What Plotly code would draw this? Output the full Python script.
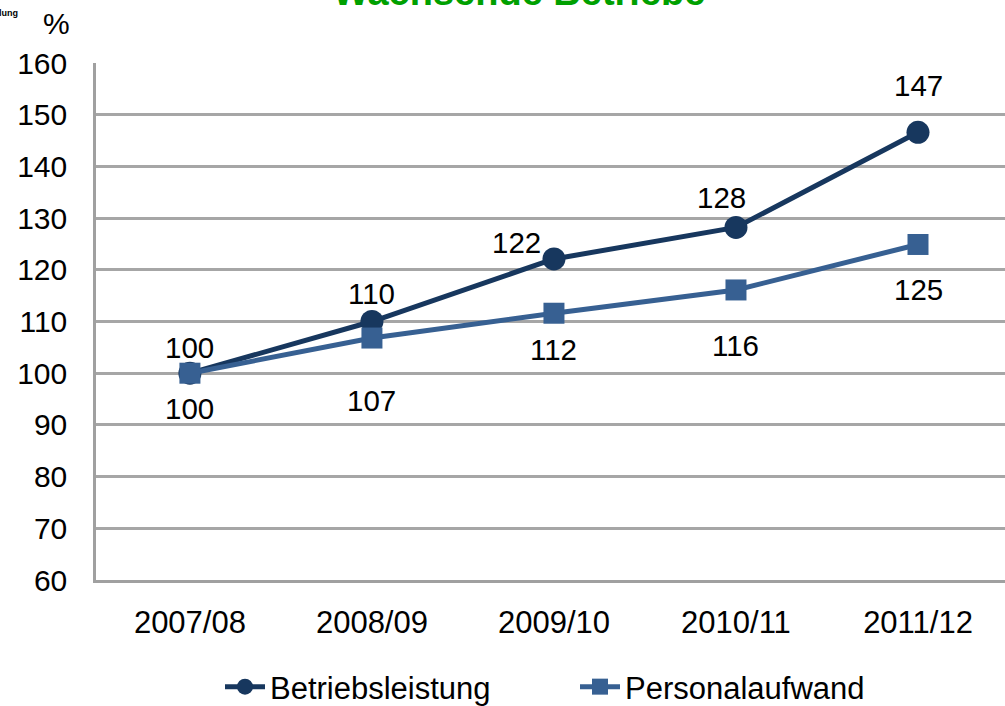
import plotly.graph_objects as go

years = ["2007/08", "2008/09", "2009/10", "2010/11", "2011/12"]
betriebsleistung = [100, 110, 122.1, 128.2, 146.6]
personalaufwand = [100, 106.8, 111.6, 116.1, 124.9]
y_ticks = [60, 70, 80, 90, 100, 110, 120, 130, 140, 150, 160]

# label offsets (style)
b_dx = [0, 0, -37, -14, 0]
b_dy = [26, 28, 16, 30, 47]
p_dx = [0, 0, 0, 0, 0]
p_dy = [-35, -62, -36, -56, -45]

DARK = "#17375E"
MID = "#376092"
FONT = "Liberation Sans, Arial, sans-serif"

L, T, B = 96, 63, 126
W = 1005 - L
plot_h = 706 - T - B

fig = go.Figure()
fig.add_trace(go.Scatter(
    x=years, y=betriebsleistung, name="Betriebsleistung", mode="lines+markers",
    line=dict(color=DARK, width=5), marker=dict(symbol="circle", size=23, color=DARK),
))
fig.add_trace(go.Scatter(
    x=years, y=personalaufwand, name="Personalaufwand", mode="lines+markers",
    line=dict(color=MID, width=5), marker=dict(symbol="square", size=21, color=MID),
))

for xs, ys, dxs, dys in [(years, betriebsleistung, b_dx, b_dy), (years, personalaufwand, p_dx, p_dy)]:
    for x, y, dx, dy in zip(xs, ys, dxs, dys):
        fig.add_annotation(x=x, y=y, text=str(int(round(y))), showarrow=False,
                           xshift=dx, yshift=dy, font=dict(size=29.5, color="black", family=FONT))

def px(x):
    return (x - L) / W
def py(y):
    return 1 + (T - y) / plot_h

fig.add_annotation(xref="paper", yref="paper", x=px(519), y=py(15),
                   xanchor="center", yanchor="bottom", text="<b>Wachsende Betriebe</b>",
                   showarrow=False, font=dict(size=38, color="#00A000", family=FONT))
fig.add_annotation(xref="paper", yref="paper", x=px(56), y=py(24),
                   xanchor="center", yanchor="middle", text="%",
                   showarrow=False, font=dict(size=30, color="black", family=FONT))
fig.add_annotation(xref="paper", yref="paper", x=px(20), y=py(13),
                   xanchor="right", yanchor="middle", text="<b>Entwicklung</b>",
                   showarrow=False, font=dict(size=9, color="black", family=FONT))

fig.update_layout(
    width=1005, height=706,
    margin=dict(l=L, r=0, t=T, b=B, autoexpand=False),
    paper_bgcolor="white", plot_bgcolor="white",
    font=dict(family=FONT, size=29, color="black"),
    showlegend=True,
    legend=dict(orientation="h", x=px(220), xanchor="left", y=py(687), yanchor="middle",
                font=dict(size=31, family=FONT), itemwidth=40, entrywidth=300, tracegroupgap=0),
    xaxis=dict(range=[-0.516, 4.478], showgrid=False, showline=True, linecolor="#A0A0A0", linewidth=2.5,
               ticks="", tickfont=dict(size=31), ticklabelstandoff=13, zeroline=False, fixedrange=True),
    yaxis=dict(range=[60, 160], tickvals=y_ticks, showgrid=True, gridcolor="#A6A6A6", gridwidth=2.5,
               showline=True, linecolor="#A0A0A0", linewidth=2.5, ticks="", zeroline=False,
               tickfont=dict(size=30), ticklabelstandoff=20, fixedrange=True),
)

fig.write_html("out.html", config={"displayModeBar": False},
               post_script="document.body.style.margin='0';document.body.style.overflow='hidden';")
